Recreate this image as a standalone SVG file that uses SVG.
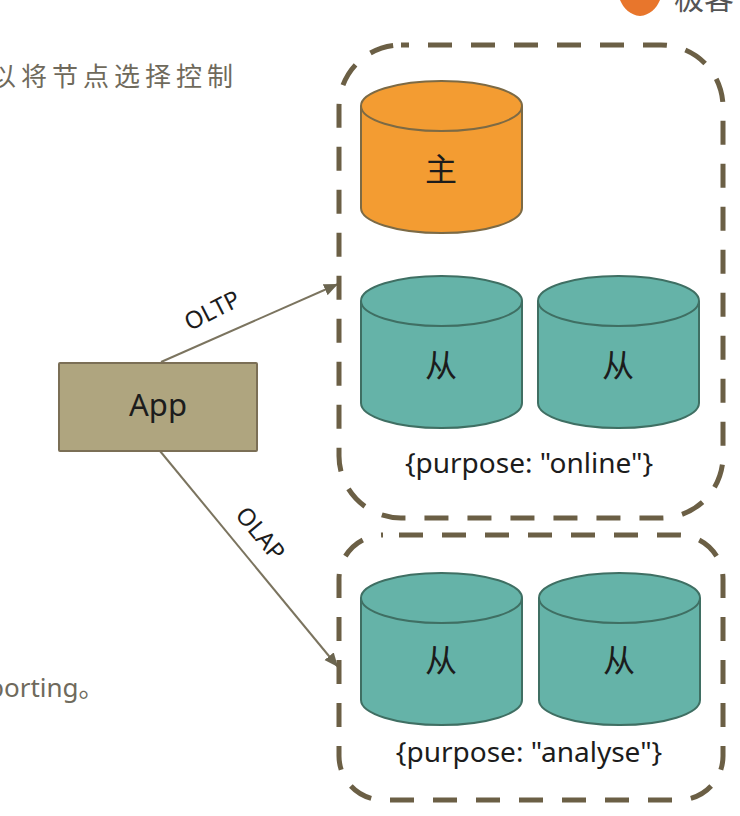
<svg xmlns="http://www.w3.org/2000/svg" width="740" height="816" viewBox="0 0 740 816">
<style>
.bg{fill:#fff}
.group{fill:none;stroke:#6b5f45;stroke-width:5;stroke-dasharray:24 19}
.teal{fill:#65b3a8;stroke:#3f6f63;stroke-width:2}
.orange{fill:#f39c32;stroke:#7c6a45;stroke-width:2}
.cap{fill-opacity:1}
.lbl{font-family:"Noto Sans","Noto Sans CJK SC",sans-serif;fill:#1c1c1c;text-anchor:middle}
.cjk{font-family:"Noto Sans CJK SC",sans-serif;font-size:32px;fill:#1c1c1c;text-anchor:middle}
.note{font-family:"Noto Sans","Noto Sans CJK SC",sans-serif;font-size:26px;fill:#6f6a5c}
.link{fill:none;stroke:#7b745f;stroke-width:2;marker-end:url(#arrow)}
</style>
<defs>
<marker id="arrow" markerUnits="userSpaceOnUse" markerWidth="16" markerHeight="14" refX="14" refY="6" orient="auto"><path d="M0 0L14 6L0 12Z" fill="#6b6550"/></marker>
<path id="cyl" d="M0 25A80.500 25 0 0 1 161 25V127A80.500 25 0 0 1 0 127Z"/>
<path id="lid" d="M0 25A80.500 25 0 0 0 161 25"/>
</defs>
<rect class="bg" width="740" height="816"/>
<g id="logo">
<path d="M620 0H660C656 9 650 15 640 16C630 15 624 9 620 0Z" fill="#e8762c"/>
<text x="674" y="9" font-family="Noto Sans CJK SC,sans-serif" font-size="30" fill="#555">极客</text>
</g>
<text class="note" x="-10" y="86" letter-spacing="5">以将节点选择控制</text>
<text class="note" x="-12" y="697" font-size="27">porting。</text>
<g id="connectors">
<path class="link" d="M161 362L338 284"/>
<path class="link" d="M160 451L338 667"/>
<text class="lbl" font-size="24" transform="translate(216 318) rotate(-27)">OLTP</text>
<text class="lbl" font-size="24" transform="translate(254 539) rotate(50)">OLAP</text>
</g>
<g id="online-group"><rect class="group" x="339" y="45" width="384" height="473" rx="62" ry="62" stroke-dashoffset="16"/></g>
<g id="analyse-group"><rect class="group" x="339" y="535" width="384" height="265" rx="44" ry="44" stroke-dashoffset="27"/></g>
<g id="app"><rect x="59" y="363" width="198" height="88" rx="1" fill="#afa57f" stroke="#7b6f56" stroke-width="2"/><text class="lbl" x="158" y="416" font-size="31">App</text></g>
<g id="primary" transform="translate(361 81)"><use href="#cyl" class="orange"/><use href="#lid" fill="none" stroke="#7c6a45" stroke-width="2"/><text class="cjk" x="80" y="100">主</text></g>
<g id="online-a" transform="translate(361 276)"><use href="#cyl" class="teal"/><use href="#lid" fill="none" stroke="#3f6f63" stroke-width="2"/><text class="cjk" x="80" y="101">从</text></g>
<g id="online-b" transform="translate(538 276)"><use href="#cyl" class="teal"/><use href="#lid" fill="none" stroke="#3f6f63" stroke-width="2"/><text class="cjk" x="80" y="101">从</text></g>
<g id="analyse-a" transform="translate(361 573)"><use href="#cyl" class="teal"/><use href="#lid" fill="none" stroke="#3f6f63" stroke-width="2"/><text class="cjk" x="80" y="99">从</text></g>
<g id="analyse-b" transform="translate(539 573)"><use href="#cyl" class="teal"/><use href="#lid" fill="none" stroke="#3f6f63" stroke-width="2"/><text class="cjk" x="80" y="99">从</text></g>
<text class="lbl" x="529" y="473" font-size="28">{purpose: "online"}</text>
<text class="lbl" x="529" y="762" font-size="28">{purpose: "analyse"}</text>
</svg>
